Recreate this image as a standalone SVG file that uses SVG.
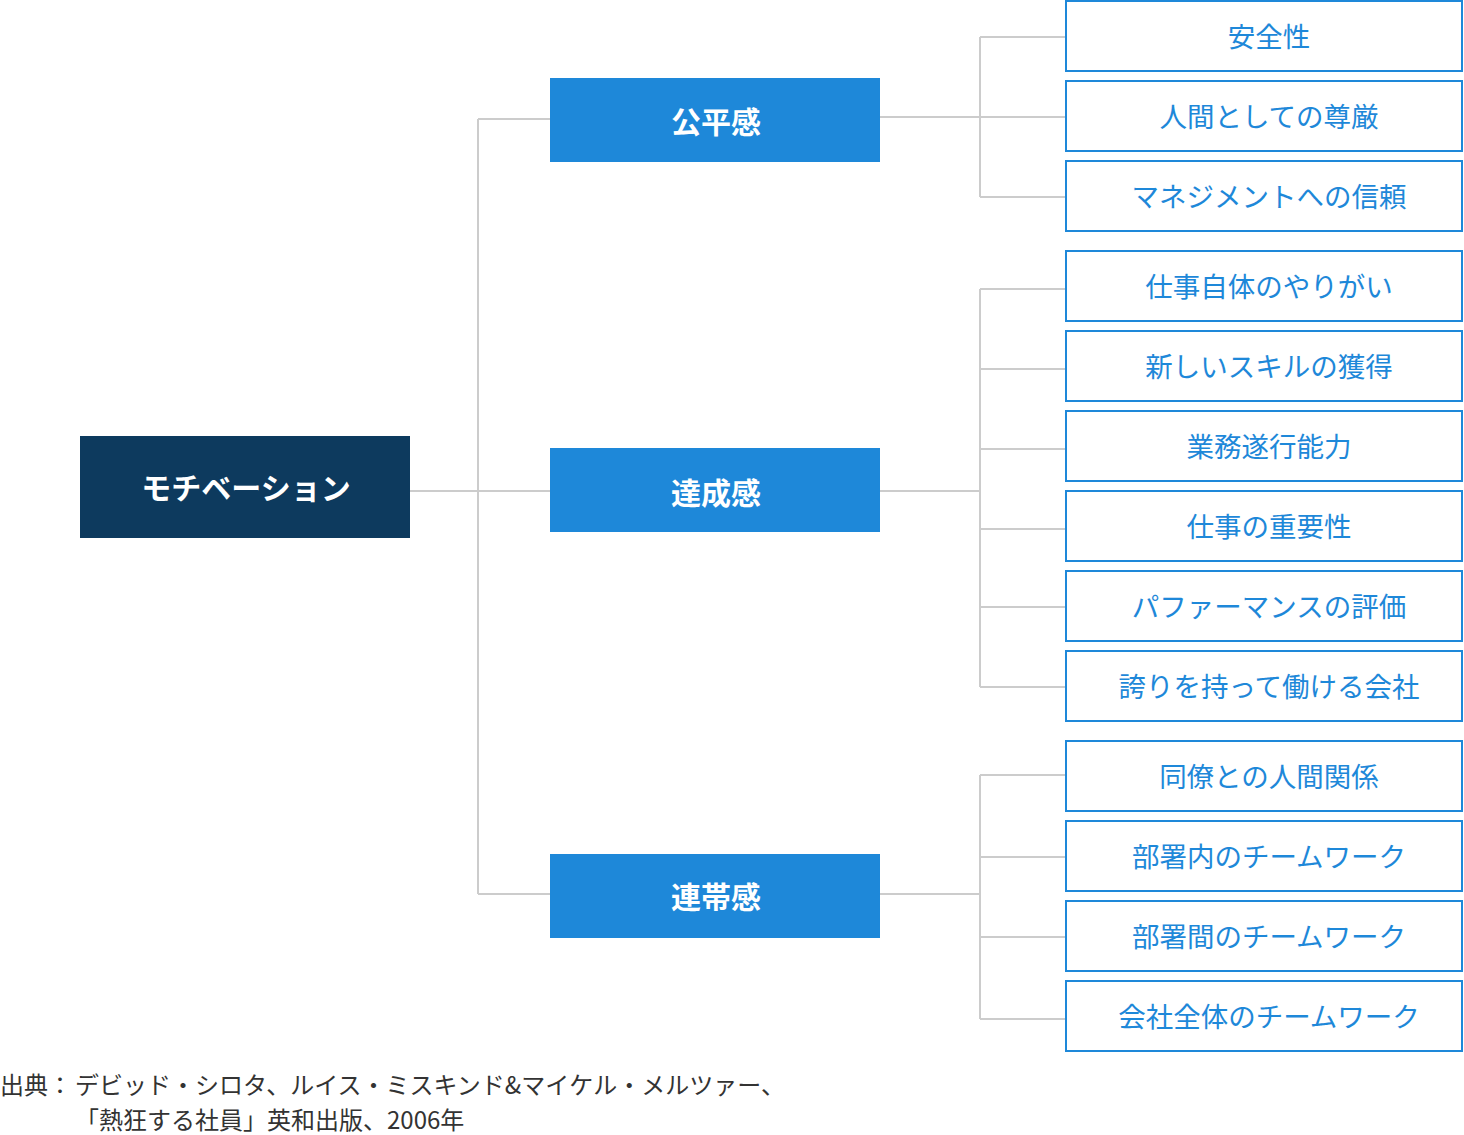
<svg xmlns="http://www.w3.org/2000/svg" width="1464" height="1135" viewBox="0 0 1464 1135">
<style>
.c{fill:none;stroke:#cccccc;stroke-width:2}
.root{fill:#0d3a5e}
.mid{fill:#1e88d9}
.leaf{fill:#ffffff;stroke:#1e88d9;stroke-width:2}
text{font-family:"Noto Sans CJK JP","Noto Sans",sans-serif;text-anchor:middle;dominant-baseline:central}
.tw{fill:#ffffff;font-weight:bold;font-size:30px}
.tl{fill:#1e88d9;font-size:27.5px}
.fn{fill:#333333;font-size:24px;text-anchor:start;dominant-baseline:auto}
</style>
<rect width="1464" height="1135" fill="#ffffff"/>
<g id="connectors">
<path class="c" d="M410 491H550M478 119V894M478 119H550M478 894H550"/>
<path class="c" d="M880 117H980M980 37V197M980 37H1066M980 117H1066M980 197H1066"/>
<path class="c" d="M880 491H980M980 289V687M980 289H1066M980 369H1066M980 449H1066M980 529H1066M980 607H1066M980 687H1066"/>
<path class="c" d="M880 894H980M980 775V1019M980 775H1066M980 857H1066M980 937H1066M980 1019H1066"/>
</g>
<g id="n-root"><rect class="root" x="80" y="436" width="330" height="102"/><text class="tw" x="246" y="486">モチベーション</text></g>
<g id="n-kohei"><rect class="mid" x="550" y="78" width="330" height="84"/><text class="tw" x="716" y="120">公平感</text></g>
<g id="n-tassei"><rect class="mid" x="550" y="448" width="330" height="84"/><text class="tw" x="716" y="491">達成感</text></g>
<g id="n-rentai"><rect class="mid" x="550" y="854" width="330" height="84"/><text class="tw" x="716" y="895">連帯感</text></g>
<g id="n1"><rect class="leaf" x="1066" y="1" width="396" height="70"/><text class="tl" x="1269" y="35">安全性</text></g>
<g id="n2"><rect class="leaf" x="1066" y="81" width="396" height="70"/><text class="tl" x="1269" y="115">人間としての尊厳</text></g>
<g id="n3"><rect class="leaf" x="1066" y="161" width="396" height="70"/><text class="tl" x="1269" y="195">マネジメントへの信頼</text></g>
<g id="n4"><rect class="leaf" x="1066" y="251" width="396" height="70"/><text class="tl" x="1269" y="285">仕事自体のやりがい</text></g>
<g id="n5"><rect class="leaf" x="1066" y="331" width="396" height="70"/><text class="tl" x="1269" y="365">新しいスキルの獲得</text></g>
<g id="n6"><rect class="leaf" x="1066" y="411" width="396" height="70"/><text class="tl" x="1269" y="445">業務遂行能力</text></g>
<g id="n7"><rect class="leaf" x="1066" y="491" width="396" height="70"/><text class="tl" x="1269" y="525">仕事の重要性</text></g>
<g id="n8"><rect class="leaf" x="1066" y="571" width="396" height="70"/><text class="tl" x="1269" y="605">パファーマンスの評価</text></g>
<g id="n9"><rect class="leaf" x="1066" y="651" width="396" height="70"/><text class="tl" x="1269" y="685">誇りを持って働ける会社</text></g>
<g id="n10"><rect class="leaf" x="1066" y="741" width="396" height="70"/><text class="tl" x="1269" y="775">同僚との人間関係</text></g>
<g id="n11"><rect class="leaf" x="1066" y="821" width="396" height="70"/><text class="tl" x="1269" y="855">部署内のチームワーク</text></g>
<g id="n12"><rect class="leaf" x="1066" y="901" width="396" height="70"/><text class="tl" x="1269" y="935">部署間のチームワーク</text></g>
<g id="n13"><rect class="leaf" x="1066" y="981" width="396" height="70"/><text class="tl" x="1269" y="1015">会社全体のチームワーク</text></g>
<g id="footnote">
<text class="fn" x="0" y="1094">出典：</text>
<text class="fn" x="75" y="1094">デビッド・シロタ、ルイス・ミスキンド&amp;マイケル・メルツァー、</text>
<text class="fn" x="75" y="1129">「熱狂する社員」英和出版、2006年</text>
</g>
</svg>
